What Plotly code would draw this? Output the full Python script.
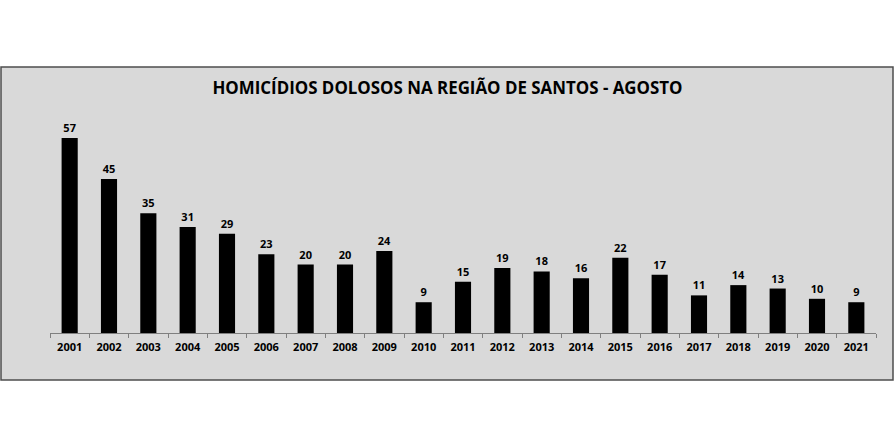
import plotly.graph_objects as go

# Homicídios dolosos, região de Santos, mês de agosto
anos = [str(a) for a in range(2001, 2022)]
homicidios = [57, 45, 35, 31, 29, 23, 20, 20, 24, 9, 15, 19, 18, 16, 22, 17, 11, 14, 13, 10, 9]

titulo = "HOMICÍDIOS DOLOSOS NA REGIÃO DE SANTOS - AGOSTO"

W, H = 895, 448
ml, mr, mt, mb = 50, 19, 110, 115
pw = W - ml - mr
ph = H - mt - mb


def px_to_paper_x(px):
    return (px - ml) / pw


def px_to_paper_y(py):
    return (H - mb - py) / ph


fig = go.Figure()
fig.add_trace(go.Bar(
    x=anos,
    y=homicidios,
    marker=dict(color="black", line=dict(width=0)),
    text=homicidios,
    textposition="outside",
    textfont=dict(family="Open Sans", size=11, color="black", weight="bold"),
    cliponaxis=False,
))

# moldura cinza do gráfico
fig.add_shape(
    type="rect", xref="paper", yref="paper", layer="below",
    x0=px_to_paper_x(1), x1=px_to_paper_x(893),
    y0=px_to_paper_y(380), y1=px_to_paper_y(67),
    fillcolor="#d9d9d9", line=dict(color="#4d4d4d", width=1.5),
)

fig.update_layout(
    width=W, height=H,
    margin=dict(l=ml, r=mr, t=mt, b=mb),
    paper_bgcolor="white",
    plot_bgcolor="rgba(0,0,0,0)",
    bargap=0.59,
    showlegend=False,
    title=dict(
        text="<b>" + titulo + "</b>",
        x=0.5, xref="container", xanchor="center",
        y=1 - 88 / H, yanchor="middle",
        font=dict(family="Open Sans", size=16.9, color="black"),
    ),
    xaxis=dict(
        type="category",
        showline=True, linecolor="#7f7f7f", linewidth=1,
        ticks="outside", tickson="boundaries", ticklen=4, tickcolor="#7f7f7f",
        ticklabelstandoff=4,
        tickfont=dict(family="Open Sans", size=11, color="black", weight="bold"),
        showgrid=False,
    ),
    yaxis=dict(
        range=[0, ph / 3.42],
        visible=False,
        showgrid=False,
    ),
)

fig.write_html("out.html", config={"displayModeBar": False},
               post_script="document.body.style.margin='0';")
